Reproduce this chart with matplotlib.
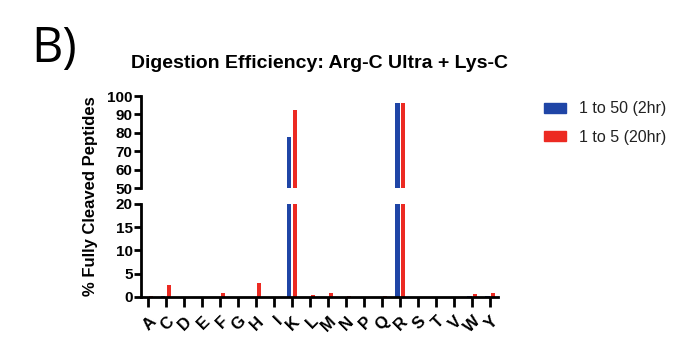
import numpy as np
import matplotlib
matplotlib.use('Agg')
import matplotlib.pyplot as plt
from matplotlib.patches import Patch

# Datos
residues = ['A', 'C', 'D', 'E', 'F', 'G', 'H', 'I', 'K', 'L',
            'M', 'N', 'P', 'Q', 'R', 'S', 'T', 'V', 'W', 'Y']
ratio_50_2hr = [0.1, 0.2, 0.0, 0.0, 0.1, 0.0, 0.1, 0.0, 77.5, 0.1,
                0.1, 0.0, 0.1, 0.1, 96.3, 0.1, 0.0, 0.1, 0.3, 0.3]
ratio_5_20hr = [0.3, 2.6, 0.0, 0.0, 0.9, 0.0, 3.1, 0.0, 92.5, 0.5,
                0.8, 0.3, 0.1, 0.3, 96.0, 0.1, 0.0, 0.1, 0.7, 0.8]
series_labels = ['1 to 50 (2hr)', '1 to 5 (20hr)']
series_colors = ['#1f45a6', '#ec2a22']

plt.rcParams['font.family'] = ['Liberation Sans', 'DejaVu Sans']

fig = plt.figure(figsize=(7, 3.55), dpi=100)
ax_top = fig.add_axes([0.2014, 0.4704, 0.51, 0.259])
ax_bot = fig.add_axes([0.2014, 0.1634, 0.51, 0.262])

x = np.arange(len(residues))
w = 0.24
for ax in (ax_top, ax_bot):
    ax.bar(x - 0.16, ratio_50_2hr, w, color=series_colors[0])
    ax.bar(x + 0.16, ratio_5_20hr, w, color=series_colors[1])
    ax.set_xlim(-0.4, 19.43)
    for s in ('top', 'right'):
        ax.spines[s].set_visible(False)
    ax.spines['left'].set_linewidth(2)
    ax.spines['bottom'].set_linewidth(2)
    ax.tick_params(axis='y', width=2, length=5, labelsize=11, pad=1)

ax_top.set_ylim(50, 100)
ax_top.set_yticks([50, 60, 70, 80, 90, 100])
ax_top.spines['bottom'].set_visible(False)
ax_top.tick_params(axis='x', bottom=False, labelbottom=False)
for lab in ax_top.get_yticklabels():
    lab.set_fontweight('bold')

ax_bot.set_ylim(0, 20)
ax_bot.set_yticks([0, 5, 10, 15, 20])
ax_bot.set_xticks(x)
ax_bot.set_xticklabels(residues, rotation=45, ha='right', rotation_mode='anchor',
                       fontweight='bold', fontsize=12)
ax_bot.tick_params(axis='x', width=2, length=7, pad=5)
for lab in ax_bot.get_yticklabels():
    lab.set_fontweight('bold')

fig.text(0.13, 0.447, '% Fully Cleaved Peptides', rotation=90, ha='center',
         va='center', fontsize=12, fontweight='bold')
fig.text(0.457, 0.822, 'Digestion Efficiency: Arg-C Ultra + Lys-C', ha='center',
         va='center', fontsize=14, fontweight='bold')
fig.text(0.045, 0.86, 'B)', fontsize=35, ha='left', va='center',
         family=['Open Sans', 'DejaVu Sans'])

handles = [Patch(color=c) for c in series_colors]
fig.legend(handles, series_labels, loc='upper left', bbox_to_anchor=(0.756, 0.755),
           frameon=False, fontsize=11.5, handlelength=1.4, handleheight=0.6,
           handletextpad=0.8, labelspacing=0.85, labelcolor='#222222')

fig.savefig('out.png', dpi=100)
